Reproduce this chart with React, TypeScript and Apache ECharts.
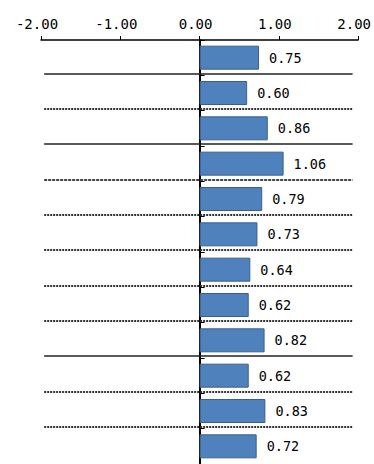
import React, { useEffect, useRef } from "react";
import * as echarts from "echarts";

const categories = ["1", "2", "3", "4", "5", "6", "7", "8", "9", "10", "11", "12"];
const values = [0.75, 0.6, 0.86, 1.06, 0.79, 0.73, 0.64, 0.62, 0.82, 0.62, 0.83, 0.72];
const xTicks = [-2, -1, 0, 1, 2];
// separator line after each row
const separatorStyles = ["solid", "dotted", "solid", "dashed", "dotted", "dotted", "dotted", "dotted", "solid", "dotted", "dotted"];
const separatorStart = -1.96;
const separatorEnd = 1.93;
const separatorOffset = 0.05;

export default function App() {
  const ref = useRef<HTMLDivElement>(null);
  useEffect(() => {
    if (!ref.current) return;
    const chart = echarts.init(ref.current, null, { renderer: "svg" });
    const font = "'DejaVu Sans Mono', monospace";
    const sepData = separatorStyles.map((s, i) => {
      const lineStyle: any =
        s === "solid"
          ? { type: "solid", color: "#222", width: 1.5 }
          : s === "dashed"
          ? { type: [3, 1], color: "#444", width: 1.8 }
          : { type: [2, 1], color: "#333", width: 1.8 };
      return [
        { coord: [separatorStart, i + 1 - separatorOffset], lineStyle },
        { coord: [separatorEnd, i + 1 - separatorOffset] },
      ];
    });
    chart.setOption({
      animation: false,
      grid: { left: 41, right: 15, top: 40, height: 427 },
      xAxis: {
        type: "value",
        position: "top",
        min: xTicks[0],
        max: xTicks[xTicks.length - 1],
        interval: 1,
        axisLine: { show: true, lineStyle: { color: "#000", width: 1.5 } },
        axisTick: { show: true, length: 4, lineStyle: { color: "#000", width: 1 } },
        splitLine: { show: false },
        axisLabel: {
          formatter: (v: number) => v.toFixed(2),
          color: "#000",
          fontSize: 14,
          fontFamily: font,
          margin: 9,
          padding: [0, 8, 0, 0],
        },
      },
      yAxis: [
        {
          type: "category",
          data: categories,
          inverse: true,
          axisLine: { show: true, onZero: true, lineStyle: { color: "#000", width: 2 } },
          axisTick: { show: true, inside: true, length: 5, lineStyle: { color: "#000" } },
          axisLabel: { show: false },
          splitLine: { show: false },
        },
        {
          type: "value",
          min: 0,
          max: categories.length,
          inverse: true,
          show: false,
          splitLine: { show: false },
        },
      ],
      series: [
        {
          type: "bar",
          data: values,
          barWidth: 24,
          itemStyle: { color: "#4F81BD", borderColor: "#3A5F8C", borderWidth: 1 },
          label: {
            show: true,
            position: "right",
            distance: 10,
            formatter: (p: any) => Number(p.value).toFixed(2),
            color: "#000",
            fontSize: 13.5,
            fontFamily: font,
          },
          z: 3,
        },
        {
          type: "line",
          xAxisIndex: 0,
          yAxisIndex: 1,
          data: [],
          silent: true,
          markLine: {
            silent: true,
            symbol: "none",
            label: { show: false },
            data: sepData,
          },
          z: 2,
        },
      ],
    });
    return () => chart.dispose();
  }, []);
  return (
    <div
      ref={ref}
      style={{ position: "fixed", left: 0, top: 0, width: 374, height: 464, background: "#fff" }}
    />
  );
}
